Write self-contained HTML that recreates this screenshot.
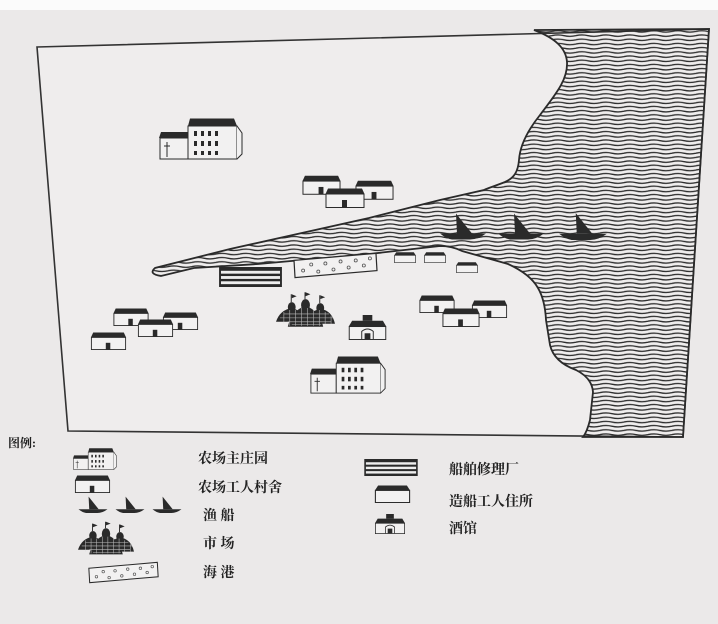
<!DOCTYPE html>
<html><head><meta charset="utf-8"><style>
html,body{margin:0;padding:0;background:#ebe9e9;}
svg{display:block}
.t{font-family:"Liberation Serif","Noto Serif CJK SC",serif;font-size:14px;font-weight:bold;fill:#222;}
</style></head><body>
<svg width="718" height="624" viewBox="0 0 718 624" xmlns="http://www.w3.org/2000/svg">
<defs>
<pattern id="w" width="24" height="4.2" patternUnits="userSpaceOnUse">
<path d="M0 2 Q6 0.6 12 2 T24 2" fill="none" stroke="#2a2a2a" stroke-width="1.3"/>
</pattern>
<symbol id="house" viewBox="0 0 40 20">
<path d="M3 0.5 H37 L39.5 6 H0.5 Z" fill="#2a2a2a"/>
<rect x="1" y="6" width="38" height="13.5" fill="#f2f1f1" stroke="#2a2a2a" stroke-width="1"/>
<rect x="17" y="12" width="5" height="7.5" fill="#2a2a2a"/>
</symbol>
<symbol id="shack" viewBox="0 0 40 20">
<path d="M4 0.5 H36 L39.5 6 H0.5 Z" fill="#2a2a2a"/>
<rect x="1" y="6" width="38" height="13.5" fill="#f2f1f1" stroke="#2a2a2a" stroke-width="1.2"/>
</symbol>
<symbol id="manor" viewBox="0 0 84 42">
<path d="M2 14 H29 V20 H0 Z" fill="#2a2a2a"/>
<rect x="1" y="20" width="28" height="21" fill="#f2f1f1" stroke="#2a2a2a"/>
<path d="M8 24 V39 M5 28 H11" stroke="#2a2a2a"/>
<path d="M31 0.5 H75 L78 8 H29 Z" fill="#2a2a2a"/>
<rect x="29" y="8" width="49" height="33" fill="#f2f1f1" stroke="#2a2a2a"/>
<path d="M78 8 L83 15 V36 L78 41" fill="#f2f1f1" stroke="#2a2a2a"/>
<g fill="#2a2a2a">
<rect x="35" y="13" width="3" height="5"/><rect x="42" y="13" width="3" height="5"/><rect x="49" y="13" width="3" height="5"/><rect x="56" y="13" width="3" height="5"/>
<rect x="35" y="23" width="3" height="5"/><rect x="42" y="23" width="3" height="5"/><rect x="49" y="23" width="3" height="5"/><rect x="56" y="23" width="3" height="5"/>
<rect x="35" y="33" width="3" height="4"/><rect x="42" y="33" width="3" height="4"/><rect x="49" y="33" width="3" height="4"/><rect x="56" y="33" width="3" height="4"/>
</g>
</symbol>
<symbol id="boat" viewBox="0 0 46 27">
<path d="M16 1 L17 21 L32 21 Z" fill="#2a2a2a"/>
<path d="M0 21 H46 Q38 27 30 27 H12 Q6 26 0 21 Z" fill="#2a2a2a"/>
</symbol>
<symbol id="market" viewBox="0 0 60 36">
<g fill="#2a2a2a">
<path d="M0 30 Q4 18 16 16 Q26 18 30 30 Z"/>
<path d="M12 35 Q16 18 30 14 Q44 18 48 35 Z"/>
<path d="M30 32 Q34 18 46 17 Q57 19 60 32 Z"/>
<ellipse cx="16" cy="15" rx="4" ry="5"/><ellipse cx="30" cy="13" rx="4.5" ry="6"/><ellipse cx="45" cy="16" rx="4" ry="5"/>
<path d="M15.5 10 V2 M29.5 7 V0 M44.5 11 V3" stroke="#2a2a2a" stroke-width="1"/>
<path d="M16 2 L21 4 L16 6 Z M30 0 L35 2 L30 4 Z M45 3 L50 5 L45 7 Z"/>
</g>
<g stroke="#ddd" stroke-width="0.6" opacity="0.8">
<path d="M4 26 H58 M8 22 H54 M12 30 H56 M16 33 H46"/>
<path d="M8 20 V32 M14 18 V34 M20 18 V34 M26 16 V34 M32 16 V34 M38 16 V34 M44 18 V34 M50 20 V32 M56 24 V32"/>
</g>
</symbol>
<symbol id="tavern" viewBox="0 0 40 26">
<rect x="15" y="0" width="10" height="6" fill="#2a2a2a"/>
<path d="M4 6 H36 L39.5 12 H0.5 Z" fill="#2a2a2a"/>
<rect x="1" y="12" width="38" height="13.5" fill="#f2f1f1" stroke="#2a2a2a"/>
<path d="M14 25 V17 Q20 12 26 17 V25" fill="none" stroke="#2a2a2a"/>
<rect x="17" y="19" width="6" height="6" fill="#2a2a2a"/>
</symbol>
<symbol id="yard" viewBox="0 0 66 21">
<rect x="0" y="0" width="66" height="21" fill="#2a2a2a"/>
<rect x="2" y="4" width="62" height="3" fill="#eee"/>
<rect x="2" y="9.5" width="62" height="3" fill="#eee"/>
<rect x="2" y="15" width="62" height="3" fill="#eee"/>
</symbol>
<symbol id="harbor" viewBox="0 0 84 26">
<path d="M1 8 L82 1 L83 18 L2 25 Z" fill="#f2f1f1" stroke="#2a2a2a" stroke-width="1.2"/>
<g fill="none" stroke="#555" stroke-width="0.8">
<circle cx="10" cy="18" r="1.5"/><circle cx="18" cy="12" r="1.5"/><circle cx="25" cy="19" r="1.5"/><circle cx="32" cy="11" r="1.5"/><circle cx="40" cy="17" r="1.5"/><circle cx="47" cy="9" r="1.5"/><circle cx="55" cy="15" r="1.5"/><circle cx="62" cy="8" r="1.5"/><circle cx="70" cy="13" r="1.5"/><circle cx="76" cy="6" r="1.5"/>
</g>
</symbol>
</defs>

<rect x="0" y="0" width="718" height="624" fill="#ebe9e9"/>
<rect x="0" y="0" width="718" height="10" fill="#fbfbfb"/>

<!-- frame -->
<path d="M37 47 L709 29 L683 437 L68 431 Z" fill="#efeded" stroke="#333" stroke-width="1.6"/>

<!-- sea -->
<path d="M534 30 C555 38 566 48 567 62 C568 80 555 95 540 115 C528 130 520 145 519 160 C518 172 514 178 505 182 C495 186 488 188 484 190 L440 200 L369 218 L230 249 L155 268 Q148 274 161 276 L194 268 L258 264 L369 254 L440 246 Q452 246 462 251 L508 264 Q530 274 538 288 Q545 300 546 320 L550 345 Q554 362 576 370 Q592 378 593 392 L590 420 Q587 432 583 437 L683 437 L709 29 Z" fill="url(#w)" stroke="#2a2a2a" stroke-width="1.8"/>

<!-- buildings -->
<use href="#manor" x="159" y="118" width="84" height="42"/>
<use href="#manor" x="308" y="356" width="80" height="38"/>
<use href="#house" x="302" y="175" width="39" height="20"/>
<use href="#house" x="355" y="180" width="39" height="20"/>
<use href="#house" x="325" y="188" width="40" height="20"/>
<use href="#house" x="113" y="308" width="36" height="18"/>
<use href="#house" x="161" y="312" width="39" height="18"/>
<use href="#house" x="137" y="319" width="37" height="18"/>
<use href="#house" x="90" y="332" width="37" height="18"/>
<use href="#house" x="417" y="295" width="40" height="18"/>
<use href="#house" x="470" y="300" width="39" height="18"/>
<use href="#house" x="441" y="308" width="40" height="19"/>
<use href="#shack" x="393" y="252" width="24" height="11"/>
<use href="#shack" x="423" y="252" width="24" height="11"/>
<use href="#shack" x="455" y="262" width="24" height="11"/>
<use href="#yard" x="218" y="267" width="65" height="20"/>
<use href="#harbor" x="293" y="252" width="85" height="27"/>
<use href="#market" x="276" y="292" width="59" height="36"/>
<use href="#tavern" x="348" y="315" width="39" height="25"/>
<use href="#boat" x="440" y="212" width="46" height="28"/>
<use href="#boat" x="498" y="212" width="46" height="28"/>
<use href="#boat" x="559" y="212" width="48" height="28"/>

<!-- legend -->
<text x="8" y="447" class="t" style="font-size:12px">图例:</text>
<use href="#manor" x="71" y="448" width="48" height="22"/>
<use href="#house" x="74" y="475" width="37" height="18"/>
<use href="#boat" x="78" y="496" width="30" height="17"/>
<use href="#boat" x="115" y="496" width="30" height="17"/>
<use href="#boat" x="152" y="496" width="30" height="17"/>
<use href="#market" x="78" y="520" width="56" height="37"/>
<use href="#harbor" x="88" y="561" width="71" height="23"/>
<use href="#yard" x="359" y="459" width="64" height="17"/>
<use href="#shack" x="373" y="485" width="39" height="18"/>
<use href="#tavern" x="372" y="514" width="36" height="20"/>
<text x="198" y="463" class="t">农场主庄园</text>
<text x="198" y="492" class="t">农场工人村舍</text>
<text x="203" y="520" class="t">渔 船</text>
<text x="203" y="548" class="t">市 场</text>
<text x="203" y="577" class="t">海 港</text>
<text x="449" y="474" class="t">船舶修理厂</text>
<text x="449" y="506" class="t">造船工人住所</text>
<text x="449" y="533" class="t">酒馆</text>
</svg>
</body></html>
